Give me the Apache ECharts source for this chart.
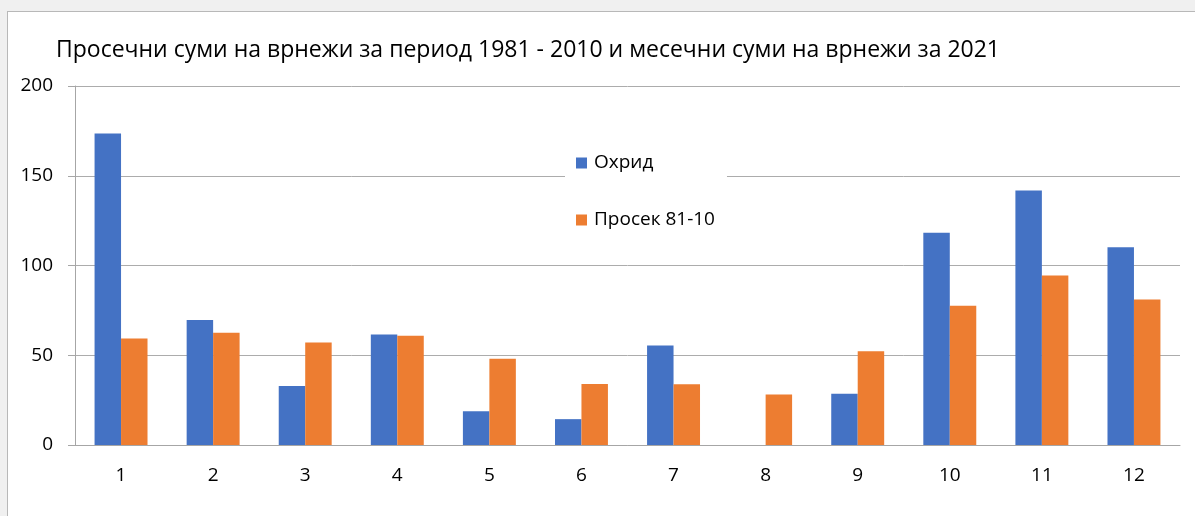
<!DOCTYPE html>
<html>
<head>
<meta charset="utf-8">
<script src="https://cdn.jsdelivr.net/npm/echarts@6/dist/echarts.min.js"></script>
<style>
  html, body { margin: 0; padding: 0; background: #f0f0f0; overflow: hidden; }
  #main {
    position: absolute; left: 7px; top: 11px;
    width: 1200px; height: 510px;
    background: #ffffff;
    border-left: 1px solid #b8b8b8; border-top: 1px solid #b8b8b8;
  }
</style>
</head>
<body>
<div id="main"></div>
<script>
// months
let months = ['1', '2', '3', '4', '5', '6', '7', '8', '9', '10', '11', '12'];

// Охрид 2021 monthly sums
let ohrid = [173.5, 69.6, 32.8, 61.6, 18.8, 14.4, 55.4, 0, 28.5, 118.2, 141.8, 110.2];

// average 1981 - 2010
let average = [59.3, 62.5, 57.1, 60.8, 48.1, 34.0, 33.8, 28.2, 52.2, 77.6, 94.4, 81.0];

let yTicks = [0, 50, 100, 150, 200];

let font = 'Open Sans';

var dom = document.getElementById('main');
var myChart = echarts.init(dom);

var option = {
    animation: false,
    title: {
        text: 'Просечни суми на врнежи за период 1981 - 2010 и месечни суми на врнежи за 2021',
        left: 43,
        top: 22,
        textStyle: { fontFamily: font, fontSize: 23, fontWeight: 'normal', color: '#000' }
    },
    legend: {
        orient: 'vertical',
        left: 557,
        top: 131,
        padding: [10, 12, 10, 11],
        backgroundColor: '#ffffff',
        itemWidth: 11,
        itemHeight: 11,
        itemGap: 37,
        icon: 'rect',
        textStyle: { fontFamily: font, fontSize: 19, lineHeight: 20, color: '#000', padding: [0, 0, 0, 2] },
        data: ['Охрид', 'Просек 81-10']
    },
    grid: {
        left: 67,
        right: 28,
        top: 74,
        bottom: 77
    },
    xAxis: {
        type: 'category',
        data: months,
        axisLine: { lineStyle: { color: '#a6a6a6', width: 1 } },
        axisTick: { length: 7, lineStyle: { color: '#a6a6a6' } },
        axisLabel: { margin: 21, fontFamily: font, fontSize: 19, color: '#000' }
    },
    yAxis: {
        type: 'value',
        min: yTicks[0],
        max: yTicks[yTicks.length - 1],
        interval: yTicks[1] - yTicks[0],
        axisLine: { show: true, lineStyle: { color: '#a6a6a6', width: 1 } },
        axisTick: { show: true, length: 7, lineStyle: { color: '#a6a6a6' } },
        axisLabel: { margin: 22, fontFamily: font, fontSize: 19, color: '#000' },
        splitLine: { lineStyle: { color: '#acacac', width: 1 } }
    },
    series: [
        {
            name: 'Охрид',
            type: 'bar',
            data: ohrid,
            barGap: '0%',
            barCategoryGap: '42.5%',
            itemStyle: { color: '#4472C4' }
        },
        {
            name: 'Просек 81-10',
            type: 'bar',
            data: average,
            barGap: '0%',
            barCategoryGap: '42.5%',
            itemStyle: { color: '#ED7D31' }
        }
    ]
};

if (option && typeof option === 'object') {
    myChart.setOption(option);
}
</script>
</body>
</html>
